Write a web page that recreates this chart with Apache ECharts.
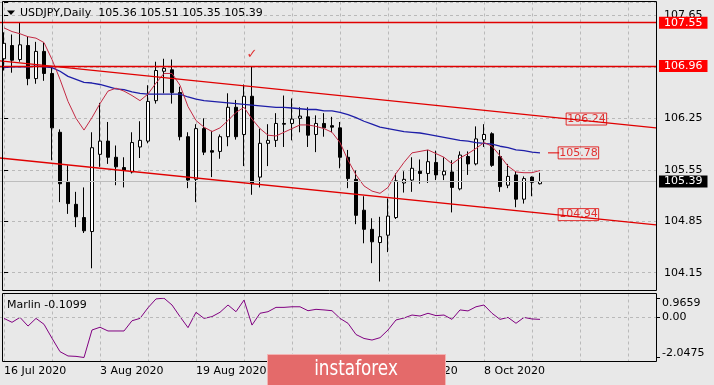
<!DOCTYPE html>
<html><head><meta charset="utf-8">
<script src="https://cdn.jsdelivr.net/npm/echarts@6/dist/echarts.min.js"></script>
<style>html,body{margin:0;padding:0;background:#e8e8e8}#c{width:714px;height:385px}</style>
</head><body><div id="c"></div>
<script>
// ---------- data ----------
const symbolName = 'USDJPY,Daily';
const dates = ['16 Jul 2020','17 Jul 2020','20 Jul 2020','21 Jul 2020','22 Jul 2020','23 Jul 2020','24 Jul 2020','27 Jul 2020','28 Jul 2020','29 Jul 2020','30 Jul 2020','31 Jul 2020',
'3 Aug 2020','4 Aug 2020','5 Aug 2020','6 Aug 2020','7 Aug 2020','10 Aug 2020','11 Aug 2020','12 Aug 2020','13 Aug 2020','14 Aug 2020','17 Aug 2020','18 Aug 2020','19 Aug 2020','20 Aug 2020','21 Aug 2020','24 Aug 2020','25 Aug 2020','26 Aug 2020','27 Aug 2020','28 Aug 2020','31 Aug 2020',
'1 Sep 2020','2 Sep 2020','3 Sep 2020','4 Sep 2020','7 Sep 2020','8 Sep 2020','9 Sep 2020','10 Sep 2020','11 Sep 2020','14 Sep 2020','15 Sep 2020','16 Sep 2020','17 Sep 2020','18 Sep 2020','21 Sep 2020','22 Sep 2020','23 Sep 2020','24 Sep 2020','25 Sep 2020','28 Sep 2020','29 Sep 2020','30 Sep 2020',
'1 Oct 2020','2 Oct 2020','5 Oct 2020','6 Oct 2020','7 Oct 2020','8 Oct 2020','9 Oct 2020','12 Oct 2020','13 Oct 2020','14 Oct 2020','15 Oct 2020','16 Oct 2020','19 Oct 2020'];
const opens = [107.06,107.24,107.05,107.24,106.79,107.16,106.86,106.06,105.38,105.08,
104.90,104.71,105.76,105.94,105.72,105.58,105.52,105.86,105.94,106.49,
106.89,106.91,106.60,106.00,105.42,106.11,105.81,105.80,106.00,106.40,
106.03,106.55,105.45,105.91,105.95,106.18,106.18,106.25,106.27,106.03,
106.18,106.15,106.12,105.72,105.42,105.00,104.74,104.56,104.66,104.90,
105.37,105.41,105.53,105.50,105.65,105.48,105.52,105.29,105.73,105.63,
105.96,106.04,105.73,105.34,105.48,105.15,105.45,105.36];
const highs = [107.42,107.39,107.55,107.36,107.29,107.28,106.95,106.10,105.61,105.25,
105.31,106.06,106.46,106.20,105.88,105.72,106.06,106.21,106.70,107.02,
107.06,107.05,106.68,106.06,106.17,106.25,106.08,106.03,106.59,106.50,
106.71,106.96,106.11,106.17,106.32,106.56,106.52,106.40,106.40,106.29,
106.32,106.27,106.20,105.82,105.54,105.19,104.89,104.91,105.16,105.50,
105.53,105.72,105.69,105.82,105.81,105.72,105.68,105.80,105.80,106.14,
106.17,106.06,105.82,105.63,105.53,105.46,105.46,105.51];
const lows = [106.90,106.87,107.02,106.70,106.72,106.76,105.68,105.11,104.95,104.77,
104.69,104.21,105.59,105.63,105.34,105.31,105.50,105.71,105.91,106.45,
106.59,106.45,105.95,105.30,105.11,105.75,105.45,105.70,105.87,105.96,
105.60,105.21,105.31,105.60,105.86,105.86,105.95,106.06,105.86,105.79,
106.00,106.06,105.57,105.30,104.81,104.55,104.28,104.03,104.43,104.88,
105.24,105.25,105.36,105.37,105.41,105.41,104.97,105.27,105.48,105.61,
105.86,105.59,105.25,105.30,105.04,105.09,105.19,105.35];
const closes = [107.27,107.04,107.25,106.79,107.16,106.86,106.12,105.36,105.09,104.91,
104.72,105.85,105.94,105.72,105.59,105.54,105.92,105.95,106.48,106.90,
106.93,106.60,106.00,105.41,106.11,105.79,105.79,106.00,106.40,106.00,
106.55,105.36,105.91,105.95,106.18,106.17,106.24,106.28,106.02,106.18,
106.12,106.13,105.72,105.43,104.93,104.74,104.57,104.64,104.92,105.40,
105.42,105.57,105.50,105.66,105.48,105.53,105.31,105.75,105.63,105.97,
106.03,105.61,105.32,105.46,105.15,105.43,105.38,105.39];
const redMA = [107.48,107.43,107.40,107.36,107.34,107.28,107.05,106.78,106.48,106.25,
106.09,106.26,106.45,106.62,106.66,106.62,106.56,106.49,106.58,106.73,
106.86,106.86,106.70,106.41,106.22,106.13,106.07,106.12,106.22,106.33,
106.40,106.24,106.11,106.02,106.01,106.06,106.11,106.16,106.16,106.14,
106.11,106.06,105.92,105.68,105.48,105.33,105.26,105.23,105.31,105.50,
105.65,105.78,105.80,105.82,105.77,105.72,105.63,105.71,105.77,105.84,
105.92,105.87,105.74,105.60,105.52,105.51,105.51,105.54];
const blueMA = [106.94,106.95,106.95,106.95,106.96,106.95,106.94,106.89,106.82,106.78,
106.74,106.73,106.71,106.68,106.65,106.64,106.61,106.59,106.58,106.58,
106.58,106.58,106.58,106.54,106.51,106.49,106.48,106.47,106.46,106.45,
106.44,106.43,106.42,106.41,106.40,106.40,106.39,106.38,106.37,106.37,
106.35,106.35,106.33,106.30,106.26,106.21,106.17,106.13,106.11,106.09,
106.07,106.06,106.05,106.03,106.01,105.99,105.97,105.95,105.94,105.92,
105.91,105.90,105.87,105.85,105.82,105.81,105.79,105.78];
const marlin = [-0.06,-0.26,-0.01,-0.45,-0.06,-0.36,-1.07,-1.75,-1.97,-1.99,
-2.0475,-0.65,-0.51,-0.70,-0.70,-0.70,-0.18,-0.06,0.48,0.93,
0.9659,0.62,0.03,-0.53,0.25,-0.06,0.03,0.25,0.62,0.28,
0.87,-0.40,0.20,0.28,0.50,0.50,0.53,0.53,0.33,0.40,
0.37,0.33,-0.06,-0.31,-0.88,-1.08,-1.16,-1.04,-0.65,-0.14,
-0.04,0.11,0.06,0.20,0.08,0.11,-0.11,0.37,0.32,0.53,
0.62,0.20,-0.11,-0.01,-0.31,-0.01,-0.09,-0.1099];
const priceTicks = [104.15,104.85,105.55,106.25,106.95,107.65];
const marlinTicks = [-2.0475,0,0.9659];
const levelLines = [107.55,106.96];
const upperTrend = [107.03,106.12];   // value at left edge, right edge
const lowerTrend = [105.71,104.80];
const trendLabels = [106.24,104.94];
const maLabel = 105.78;
const checkMarkBar = 31;

// ---------- layout ----------
const FONT = 'DejaVu Sans';
const GRIDC = '#b9b9b9';
const RED = '#e00000';
const nFuture = 14;
const cats = dates.concat(Array.from({length:nFuture},(_,k)=>'~'+k));
const N = cats.length;
const last = closes.length - 1;
const candleData = opens.map((o,i)=>[o, closes[i], lows[i], highs[i]]);
const isTick = (v, arr) => arr.some(t => Math.abs(t - v) < 1e-6);

const chart = echarts.init(document.getElementById('c'), null, {renderer:'canvas'});
const dashed = {show:true, lineStyle:{color:GRIDC, width:1, type:[3,3]}};
const labelFont = {fontFamily:FONT, fontSize:11, color:'#000'};

const option = {
  animation:false,
  backgroundColor:'#e8e8e8',
  textStyle:{fontFamily:FONT},
  grid:[
    {left:0, top:2, width:656, height:270.7},
    {left:4, top:1.5, width:648, height:289},
    {left:0, top:298.2, width:656, height:59.3},
    {left:4, top:293.5, width:648, height:68}
  ],
  xAxis:[
    {type:'category', gridIndex:0, data:cats, show:false},
    {type:'value', gridIndex:0, min:-0.5, max:N-0.5, show:false, position:'top'},
    {type:'category', gridIndex:1, data:cats, boundaryGap:false,
      axisLine:{show:false}, axisTick:{show:false}, axisLabel:{show:false},
      splitLine:Object.assign({interval:(i)=>i%6===0}, dashed)},
    {type:'category', gridIndex:2, data:cats, show:false},
    {type:'category', gridIndex:3, data:cats, boundaryGap:false,
      axisLine:{show:false}, axisTick:{show:false},
      axisLabel:Object.assign({show:true, interval:(i)=>i%12===0 && i<dates.length, align:'left', margin:4}, labelFont),
      splitLine:Object.assign({interval:(i)=>i%6===0}, dashed)}
  ],
  yAxis:[
    {type:'value', gridIndex:0, position:'right', min:priceTicks[0], max:107.832,
      interval:+(priceTicks[1]-priceTicks[0]).toFixed(4),
      axisLine:{show:false}, axisTick:{show:true, length:4, lineStyle:{color:'#000'}},
      axisLabel:Object.assign({margin:8, formatter:(v)=> isTick(v,priceTicks) ? v.toFixed(2) : ''}, labelFont),
      splitLine:dashed},
    {type:'value', gridIndex:1, min:0, max:1, show:false},
    {type:'value', gridIndex:2, position:'right', min:marlinTicks[0], max:marlinTicks[2],
      interval:-marlinTicks[0],
      axisLine:{show:false}, axisTick:{show:true, length:4, lineStyle:{color:'#000'}},
      axisLabel:Object.assign({margin:6, formatter:(v)=>{
        if (Math.abs(v-marlinTicks[2])<1e-6) return '{t|'+marlinTicks[2].toFixed(4)+'}';
        if (Math.abs(v)<1e-9) return '{m|0.00}';
        if (Math.abs(v-marlinTicks[0])<1e-6) return '{b|'+marlinTicks[0].toFixed(4)+'}';
        return '';
      }, rich:{
        t:Object.assign({padding:[9,0,0,0]}, labelFont),
        m:Object.assign({}, labelFont),
        b:Object.assign({padding:[0,0,8,0]}, labelFont)
      }}, labelFont),
      splitLine:{show:false}},
    {type:'value', gridIndex:3, min:0, max:1, show:false}
  ],
  series:[
    {type:'candlestick', xAxisIndex:0, yAxisIndex:0, data:candleData, barWidth:4, clip:false, z:2,
      itemStyle:{color:'#ffffff', color0:'#000000', borderColor:'#000000', borderColor0:'#000000', borderColorDoji:'#000000', borderWidth:1}},
    {type:'line', xAxisIndex:0, yAxisIndex:0, data:blueMA, symbol:'none', z:3,
      lineStyle:{color:'#1e1ea8', width:1.3}},
    {type:'line', xAxisIndex:0, yAxisIndex:0, data:redMA, symbol:'none', z:4,
      lineStyle:{color:'#c42a44', width:1}},
    {type:'line', xAxisIndex:1, yAxisIndex:0, data:[[-0.5, upperTrend[0]],[N-0.5, upperTrend[1]]], symbol:'none', z:5,
      lineStyle:{color:RED, width:1.3}},
    {type:'line', xAxisIndex:1, yAxisIndex:0, data:[[-0.5, lowerTrend[0]],[N-0.5, lowerTrend[1]]], symbol:'none', z:5,
      lineStyle:{color:RED, width:1.3}},
    {type:'line', xAxisIndex:1, yAxisIndex:0, data:[[68.0, maLabel],[69.4, maLabel]], symbol:'none', z:5,
      lineStyle:{color:RED, width:1}},
    {type:'scatter', xAxisIndex:1, yAxisIndex:0, z:6, symbolSize:1, itemStyle:{color:'rgba(0,0,0,0)'},
      data:[[72.8, trendLabels[0]],[71.8, maLabel],[71.8, trendLabels[1]]],
      label:{show:true, position:'inside', formatter:(p)=>p.value[1].toFixed(2), color:RED,
        fontFamily:FONT, fontSize:11, lineHeight:11, borderColor:RED, borderWidth:1, padding:[1,1,0,1]}},
    {type:'scatter', xAxisIndex:0, yAxisIndex:0, z:6, symbolSize:1, itemStyle:{color:'rgba(0,0,0,0)'},
      data:[[checkMarkBar, highs[checkMarkBar]+0.16]],
      label:{show:true, position:'inside', formatter:'\u2713', color:RED, fontFamily:FONT, fontSize:13}},
    {type:'line', xAxisIndex:0, yAxisIndex:0, data:[], z:7, silent:true,
      markLine:{symbol:['none','none'], silent:true, animation:false,
        data:[
          {yAxis:closes[last], lineStyle:{color:'#bdbdbd', width:1, type:'solid'},
            label:{show:true, position:'end', distance:3, formatter:(p)=>p.value.toFixed(2), color:'#fff', backgroundColor:'#000',
              padding:[1,5,0,5], fontFamily:FONT, fontSize:11, lineHeight:11}},
          ...levelLines.map(v=>({yAxis:v, lineStyle:{color:RED, width:1.4, type:'solid'},
            label:{show:true, position:'end', distance:3, formatter:(p)=>p.value.toFixed(2), color:'#fff', backgroundColor:'#ff0000',
              padding:[1,5,0,5], fontFamily:FONT, fontSize:11, lineHeight:11}}))
        ]}},
    {type:'line', xAxisIndex:3, yAxisIndex:2, data:marlin, symbol:'none', z:3,
      lineStyle:{color:'#800080', width:1},
      markLine:{symbol:['none','none'], silent:true, animation:false, label:{show:false},
        data:[{yAxis:0, lineStyle:{color:GRIDC, width:1, type:[3,3]}}]}}
  ],
  graphic:[
    {type:'rect', z:50, shape:{x:2.5, y:1.5, width:654, height:289}, style:{fill:null, stroke:'#000', lineWidth:1}},
    {type:'rect', z:50, shape:{x:2.5, y:293.5, width:654, height:68}, style:{fill:null, stroke:'#000', lineWidth:1}},
    {type:'polygon', z:51, shape:{points:[[7,10.5],[15,10.5],[11,15]]}, style:{fill:'#000'}},
    {type:'text', z:51, x:20, y:13, style:{text:symbolName+'  '+[opens[last],highs[last],lows[last],closes[last]].map(v=>v.toFixed(2)).join(' '),
      font:'11px "DejaVu Sans"', fill:'#000', textVerticalAlign:'middle'}},
    {type:'text', z:51, x:7, y:305, style:{text:'Marlin '+marlin[last].toFixed(4), font:'11px "DejaVu Sans"', fill:'#000', textVerticalAlign:'middle'}},
    {type:'rect', z:60, shape:{x:267.5, y:354.5, width:178, height:40}, style:{fill:'#e46a6a', stroke:'#f3b3b3', lineWidth:1}},
    {type:'text', z:61, x:356, y:369, scaleX:0.85, style:{text:'instaforex', font:'22px "DejaVu Sans Condensed", "DejaVu Sans", sans-serif', fill:'#fff', textAlign:'center', textVerticalAlign:'middle'}}
  ]
};
chart.setOption(option);
</script></body></html>
